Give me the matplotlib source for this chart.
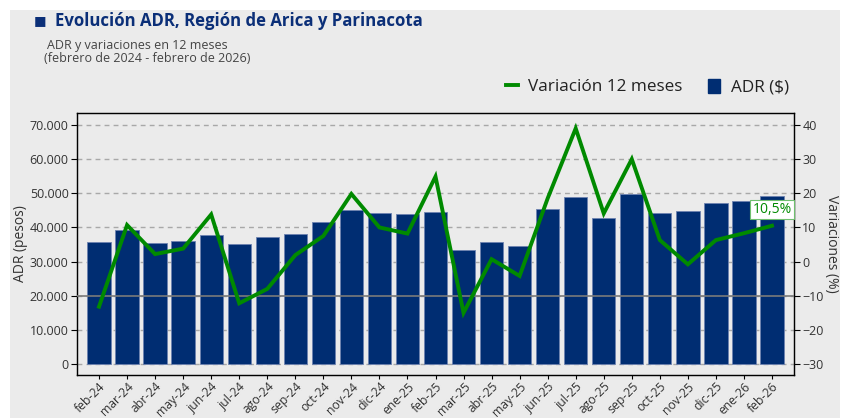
import matplotlib
matplotlib.use("Agg")
import matplotlib.pyplot as plt
from matplotlib.ticker import FuncFormatter
from matplotlib.lines import Line2D
from matplotlib.patches import Patch

plt.rcParams['font.family'] = ['Open Sans', 'DejaVu Sans']

months = ["feb-24", "mar-24", "abr-24", "may-24", "jun-24", "jul-24", "ago-24", "sep-24",
          "oct-24", "nov-24", "dic-24", "ene-25", "feb-25", "mar-25", "abr-25", "may-25",
          "jun-25", "jul-25", "ago-25", "sep-25", "oct-25", "nov-25", "dic-25", "ene-26", "feb-26"]
adr = [35650, 39160, 35530, 36120, 37790, 35060, 37290, 38080,
       41500, 45110, 44230, 43940, 44520, 33300, 35830, 34560,
       45310, 48830, 42680, 49710, 44140, 44820, 47160, 47750, 49210]
var12 = [-13.2, 10.7, 2.2, 3.8, 13.8, -12.2, -8.0, 1.9,
         7.5, 19.8, 10.0, 8.2, 24.9, -15.0, 0.7, -4.2,
         18.5, 39.0, 14.1, 30.0, 6.3, -0.8, 6.3, 8.3, 10.5]
left_ticks = [0, 10000, 20000, 30000, 40000, 50000, 60000, 70000]
right_ticks = [-30, -20, -10, 0, 10, 20, 30, 40]

BG = "#ebebeb"
NAVY = "#002d72"
GREEN = "#008a00"
TITLE = "#0b2f78"
TXT = "#333333"

fig = plt.figure(figsize=(8.5, 4.18), dpi=100)
fig.patch.set_facecolor("white")
panel = plt.Rectangle((10/850, 0), 830/850, 1 - 10/418, transform=fig.transFigure,
                      facecolor=BG, edgecolor="none", zorder=-10)
fig.patches.append(panel)

ax = fig.add_axes([77/850, 1 - 375/418, (794 - 77)/850, (375 - 113)/418])
ax.set_facecolor(BG)
x = list(range(len(months)))
ax.bar(x, adr, width=0.83, color=NAVY, edgecolor="#6d82b0", linewidth=0.6, zorder=2)
ax.set_xlim(-0.785, len(months) - 1 + 0.785)
ax.set_ylim(-3200, 73500)
ax.set_yticks(left_ticks)
ax.yaxis.set_major_formatter(FuncFormatter(lambda v, p: f"{int(v):,}".replace(",", ".")))
ax.set_xticks(x)
ax.set_xticklabels(months, rotation=45, ha="right", rotation_mode="anchor", fontsize=8.8, color=TXT)
ax.tick_params(axis="y", labelsize=9, labelcolor=TXT, length=4, width=0.8, pad=2)
ax.tick_params(axis="x", length=3, width=0.8, pad=0.5)
ax.set_axisbelow(True)
ax.yaxis.grid(True, color="#a8a8a8", linestyle=(0, (3.5, 3)), linewidth=1)
ax.set_ylabel("ADR (pesos)", fontsize=10, color=TXT, labelpad=1)
for s in ax.spines.values():
    s.set_linewidth(1)
    s.set_color("#222222")

ax2 = ax.twinx()
ax2.set_ylim(-33.2, 43.5)
ax2.set_yticks(right_ticks)
ax2.tick_params(axis="y", labelsize=9, labelcolor=TXT, length=4, width=0.8, pad=2)
ax2.axhline(-10, color="#7a7a7a", linewidth=1.2, zorder=3)
ax2.plot(x, var12, color=GREEN, linewidth=2.8, zorder=4, solid_joinstyle="miter")
ax2.set_ylabel("Variaciones (%)", fontsize=10, color=TXT, rotation=270, labelpad=11)
ax2.annotate("10,5%", xy=(x[-1], var12[-1]), xytext=(0, 11.5), textcoords="offset points",
             ha="center", va="center", fontsize=10, color=GREEN,
             bbox=dict(boxstyle="square,pad=0.15", facecolor="white", edgecolor="#6fbf6f", linewidth=0.8),
             zorder=6)

fig.text(34/850, 1 - 21/418, "■", fontsize=9.5, color=TITLE, va="center", ha="left")
fig.text(55/850, 1 - 21/418, "Evolución ADR, Región de Arica y Parinacota",
         fontsize=12.1, fontweight="bold", color=TITLE, va="center", ha="left")
fig.text(47/850, 1 - 45/418, "ADR y variaciones en 12 meses", fontsize=9, color="#444444",
         va="center", ha="left")
fig.text(44/850, 1 - 59/418, "(febrero de 2024 - febrero de 2026)", fontsize=9, color="#444444",
         va="center", ha="left")

handles = [Line2D([0], [0], color=GREEN, linewidth=2.8),
           Patch(facecolor=NAVY, edgecolor=NAVY)]
fig.legend(handles, ["Variación 12 meses", "ADR ($)"], ncol=2, frameon=False,
           loc="center right", bbox_to_anchor=(804/850, 1 - 87/418), fontsize=12.3,
           handlelength=0.7, handleheight=0.9, handletextpad=0.6, columnspacing=1.5,
           labelcolor="#222222")

fig.savefig("out.png", dpi=100, facecolor=fig.get_facecolor())
